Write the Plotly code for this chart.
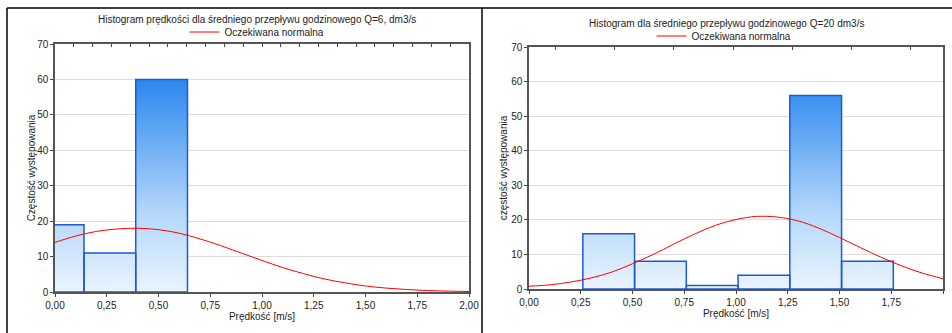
import plotly.graph_objects as go

# ---------------- data ----------------
# Left histogram (Q=6 dm3/s)
left_edges = [-0.11, 0.14, 0.39, 0.64]
left_counts = [19, 11, 60]
left_curve_x = [0.0, 0.1, 0.2, 0.3, 0.4, 0.5, 0.6, 0.7, 0.8, 0.9, 1.0,
                1.1, 1.2, 1.3, 1.4, 1.5, 1.6, 1.7, 1.8, 1.9, 2.0]
left_curve_y = [14.0, 15.8, 17.1, 17.8, 18.0, 17.6, 16.6, 15.0, 13.1, 11.0, 8.9,
                6.9, 5.2, 3.7, 2.6, 1.7, 1.1, 0.7, 0.4, 0.25, 0.15]

# Right histogram (Q=20 dm3/s)
right_edges = [0.26, 0.51, 0.76, 1.01, 1.26, 1.51, 1.76]
right_counts = [16, 8, 1, 4, 56, 8]
right_curve_x = [0.0, 0.1, 0.2, 0.3, 0.4, 0.5, 0.6, 0.7, 0.8, 0.9, 1.0,
                 1.1, 1.2, 1.3, 1.4, 1.5, 1.6, 1.7, 1.8, 1.9, 2.0]
right_curve_y = [0.8, 1.2, 2.0, 3.2, 4.9, 7.3, 10.0, 13.0, 15.9, 18.4, 20.1,
                 21.0, 20.8, 19.7, 17.6, 14.9, 12.0, 9.2, 6.7, 4.6, 3.0]

x_tick_vals = [0, 0.25, 0.5, 0.75, 1.0, 1.25, 1.5, 1.75, 2.0]
y_tick_vals = [0, 10, 20, 30, 40, 50, 60, 70]

titles = ["Histogram prędkości dla średniego przepływu godzinowego Q=6, dm3/s",
          "Histogram dla średniego przepływu godzinowego Q=20 dm3/s"]
y_titles = ["Częstość występowania", "częstość występowania"]
x_title = "Prędkość [m/s]"
legend_name = "Oczekiwana normalna"

# ---------------- helpers ----------------
W, H = 952, 333
FONT = "Liberation Sans, Arial, sans-serif"


def bar_outline(edges, counts):
    xs, ys = [], []
    for i, c in enumerate(counts):
        l, r = edges[i], edges[i + 1]
        xs += [l, l, r, r, l, None]
        ys += [0, c, c, 0, 0, None]
    return xs, ys


grad = dict(type="vertical",
            colorscale=[[0, "#eaf4fe"], [0.35, "#b5d8fb"], [1, "#2483ee"]],
            start=0, stop=62)

fig = go.Figure()

panels = [
    (left_edges, left_counts, left_curve_x, left_curve_y, "x", "y", "legend"),
    (right_edges, right_counts, right_curve_x, right_curve_y, "x2", "y2", "legend2"),
]
for edges, counts, cx, cy, xa, ya, lg in panels:
    bx, by = bar_outline(edges, counts)
    fig.add_trace(go.Scatter(x=bx, y=by, xaxis=xa, yaxis=ya, mode="lines",
                             fill="toself", fillgradient=grad,
                             line=dict(color="#1d5bd0", width=1.5),
                             showlegend=False, hoverinfo="skip"))
    fig.add_trace(go.Scatter(x=cx, y=cy, xaxis=xa, yaxis=ya, mode="lines",
                             line=dict(color="#ff0000", width=1, shape="spline"),
                             name=legend_name, legend=lg))


def px_x(p):
    return p / W


def px_y(p):
    return 1 - p / H


axis_common = dict(showline=True, linecolor="#555555", linewidth=1.5, mirror=True,
                   ticks="outside", ticklen=3, tickcolor="#444444",
                   tickfont=dict(family=FONT, size=10, color="#222222"),
                   zeroline=False, automargin=False)

fig.update_layout(
    template="none",
    width=W, height=H,
    margin=dict(l=0, r=0, t=0, b=0, autoexpand=False),
    paper_bgcolor="white", plot_bgcolor="white",
    separators=", ",
    font=dict(family=FONT, size=10, color="#222222"),
    xaxis=dict(domain=[px_x(55), px_x(469)], anchor="y", range=[0, 2],
               tickvals=x_tick_vals, tickformat=".2f", showgrid=False,
               title=dict(text=x_title, font=dict(size=10), standoff=2),
               **axis_common),
    yaxis=dict(domain=[px_y(292), px_y(44)], anchor="x", range=[0, 70],
               tickvals=y_tick_vals, showgrid=True, gridcolor="#dddddd",
               title=dict(text=y_titles[0], font=dict(size=10), standoff=0),
               **axis_common),
    xaxis2=dict(domain=[px_x(529), px_x(943)], anchor="y2", range=[0, 2],
                tickvals=x_tick_vals, tickformat=".2f", showgrid=False,
                title=dict(text=x_title, font=dict(size=10), standoff=2),
                **axis_common),
    yaxis2=dict(domain=[px_y(289), px_y(47)], anchor="x2", range=[0, 70],
                tickvals=y_tick_vals, showgrid=True, gridcolor="#dddddd",
                title=dict(text=y_titles[1], font=dict(size=10), standoff=2),
                **axis_common),
    xaxis3=dict(overlaying="x", anchor="y", side="top", range=[0, 2],
                tick0=0, dtick=2 / 22, ticks="inside", ticklen=3,
                tickcolor="#444444", showticklabels=False, showgrid=False,
                zeroline=False, showline=False, automargin=False),
    xaxis4=dict(overlaying="x2", anchor="y2", side="top", range=[0, 2],
                tick0=0.129, dtick=2 / 7, ticks="inside", ticklen=3,
                tickcolor="#444444", showticklabels=False, showgrid=False,
                zeroline=False, showline=False, automargin=False),
    legend=dict(x=px_x(257), y=px_y(32), xanchor="center", yanchor="middle",
                bgcolor="rgba(0,0,0,0)", font=dict(family=FONT, size=10),
                itemwidth=30, tracegroupgap=0),
    legend2=dict(x=px_x(724), y=px_y(36), xanchor="center", yanchor="middle",
                 bgcolor="rgba(0,0,0,0)", font=dict(family=FONT, size=10),
                 itemwidth=30, tracegroupgap=0),
    annotations=[
        dict(text=titles[0], x=px_x(257), y=px_y(20), xref="paper", yref="paper",
             showarrow=False, xanchor="center", yanchor="middle",
             font=dict(family=FONT, size=10, color="#222222")),
        dict(text=titles[1], x=px_x(726), y=px_y(23), xref="paper", yref="paper",
             showarrow=False, xanchor="center", yanchor="middle",
             font=dict(family=FONT, size=10, color="#222222")),
    ],
    shapes=[
        dict(type="line", xref="paper", yref="paper", x0=px_x(7), x1=1,
             y0=px_y(8), y1=px_y(8), line=dict(color="black", width=1.5)),
        dict(type="line", xref="paper", yref="paper", x0=px_x(7), x1=px_x(7),
             y0=px_y(8), y1=0, line=dict(color="black", width=1.5)),
        dict(type="line", xref="paper", yref="paper", x0=px_x(482), x1=px_x(482),
             y0=px_y(8), y1=0, line=dict(color="black", width=1.5)),
    ],
)

# dummy traces to activate overlay top axes
fig.add_trace(go.Scatter(x=[None], y=[None], xaxis="x3", yaxis="y",
                         showlegend=False, hoverinfo="skip"))
fig.add_trace(go.Scatter(x=[None], y=[None], xaxis="x4", yaxis="y2",
                         showlegend=False, hoverinfo="skip"))

fig.write_html("out.html")
